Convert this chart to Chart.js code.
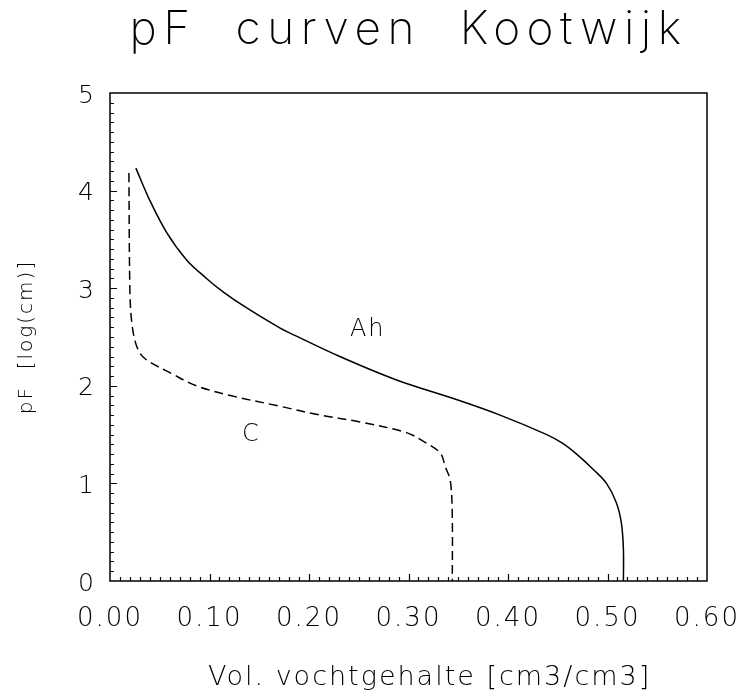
<!DOCTYPE html>
<html>
<head>
<meta charset="utf-8">
<title>pF curven Kootwijk</title>
<script src="https://cdn.jsdelivr.net/npm/chart.js@4.4.1/dist/chart.umd.min.js"></script>
<style>
  html, body { margin: 0; padding: 0; background: #fff; }
  canvas { display: block; }
</style>
</head>
<body>
<canvas id="pfChart" width="738" height="697"></canvas>
<script>
// pF curves (water retention) for the Ah and C horizon
var ahTheta = [0.026, 0.040, 0.057, 0.077, 0.097, 0.114, 0.137, 0.171, 0.181, 0.231, 0.288, 0.345, 0.392, 0.439, 0.455, 0.469, 0.486, 0.499, 0.509, 0.514, 0.516, 0.516];
var ahPf    = [4.23, 3.90, 3.57, 3.29, 3.10, 2.96, 2.80, 2.59, 2.54, 2.30, 2.06, 1.87, 1.70, 1.50, 1.41, 1.30, 1.14, 1.00, 0.80, 0.59, 0.32, 0.00];
var cTheta  = [0.019, 0.020, 0.022, 0.027, 0.035, 0.063, 0.087, 0.121, 0.171, 0.211, 0.251, 0.298, 0.315, 0.332, 0.337, 0.342, 0.344, 0.344];
var cPf     = [4.18, 2.98, 2.64, 2.40, 2.28, 2.12, 2.00, 1.90, 1.79, 1.70, 1.63, 1.52, 1.43, 1.31, 1.17, 1.03, 0.66, 0.00];

var xTickLabels = ['0.00', '0.10', '0.20', '0.30', '0.40', '0.50', '0.60'];
var yTickLabels = ['0', '1', '2', '3', '4', '5'];

var curveNames  = ['Ah', 'C'];
var curveLabelX = [0.259, 0.142];
var curveLabelY = [2.57, 1.50];

var fontFamily = '"DejaVu Sans", sans-serif';
var titleFamily = 'Inter, "DejaVu Sans", sans-serif';

function toPoints(xs, ys) {
  return xs.map(function (x, i) { return { x: x, y: ys[i] }; });
}

// wide plotter-like lettering; the title (z 0) is drawn before the datasets,
// axis labels (z 1) after them, so the spacing is switched in between
var plotterStyle = {
  id: 'plotterStyle',
  beforeUpdate: function (chart) { chart.ctx.letterSpacing = '2px'; },
  beforeDraw: function (chart) { chart.ctx.letterSpacing = '6.5px'; },
  beforeDatasetsDraw: function (chart) { chart.ctx.letterSpacing = '2px'; },
  afterDatasetsDraw: function (chart) {
    var ctx = chart.ctx, a = chart.chartArea;
    var xs = chart.scales.x, ys = chart.scales.y;
    ctx.save();
    ctx.strokeStyle = '#000';
    ctx.lineWidth = 1.2;
    ctx.beginPath();
    // inward minor ticks every 0.01 / 0.1, longer on the labelled values
    for (var i = 1; i < 60; i++) {
      var px = Math.round(xs.getPixelForValue(i / 100)) + 0.5;
      var len = i % 10 === 0 ? 7 : 4;
      ctx.moveTo(px, a.bottom);
      ctx.lineTo(px, a.bottom - len);
    }
    for (var j = 1; j < 50; j++) {
      var py = Math.round(ys.getPixelForValue(j / 10)) + 0.5;
      var l = j % 10 === 0 ? 7 : 4;
      ctx.moveTo(a.left, py);
      ctx.lineTo(a.left + l, py);
    }
    ctx.stroke();
    ctx.lineWidth = 1.5;
    ctx.strokeRect(a.left, a.top, a.right - a.left, a.bottom - a.top);

    ctx.fillStyle = '#000';
    ctx.font = '200 24px ' + fontFamily;
    ctx.textAlign = 'center';
    ctx.textBaseline = 'middle';
    curveNames.forEach(function (name, k) {
      ctx.fillText(name, xs.getPixelForValue(curveLabelX[k]), ys.getPixelForValue(curveLabelY[k]));
    });
    ctx.restore();
  }
};

new Chart(document.getElementById('pfChart'), {
  type: 'scatter',
  data: {
    datasets: [{
      label: 'Ah',
      data: toPoints(ahTheta, ahPf),
      showLine: true,
      borderColor: '#000',
      borderWidth: 1.5,
      pointRadius: 0,
      tension: 0.35
    }, {
      label: 'C',
      data: toPoints(cTheta, cPf),
      showLine: true,
      borderColor: '#000',
      borderWidth: 1.5,
      borderDash: [9, 5],
      pointRadius: 0,
      tension: 0.35
    }]
  },
  options: {
    responsive: false,
    animation: false,
    layout: { padding: { left: 0, right: 31, top: 0, bottom: 0 } },
    plugins: {
      legend: { display: false },
      tooltip: { enabled: false },
      title: {
        display: true,
        fullSize: false,
        text: 'pF  curven  Kootwijk',
        color: '#000',
        font: { family: titleFamily, size: 46, weight: 200 },
        padding: { top: 3, bottom: 34.8 }
      }
    },
    scales: {
      x: {
        type: 'linear',
        min: 0,
        max: 0.6,
        grid: { display: false, drawTicks: false, z: 1 },
        border: { display: false },
        ticks: {
          z: 1,
          stepSize: 0.1,
          color: '#000',
          padding: 23,
          font: { family: fontFamily, size: 26, weight: 200 },
          callback: function (v, i) { return xTickLabels[i]; }
        },
        title: {
          display: true,
          text: '    Vol. vochtgehalte [cm3/cm3]',
          color: '#000',
          font: { family: fontFamily, size: 27, weight: 200 },
          padding: { top: 0, bottom: 3 }
        },
        afterFit: function (scale) {
          scale.height = 116;
          scale.paddingLeft = 0;
          scale.paddingRight = 0;
        }
      },
      y: {
        type: 'linear',
        min: 0,
        max: 5,
        grid: { display: false, drawTicks: false, z: 1 },
        border: { display: false },
        ticks: {
          z: 1,
          stepSize: 1,
          color: '#000',
          padding: 14,
          labelOffset: 3,
          font: { family: fontFamily, size: 25, weight: 200 },
          callback: function (v, i) { return yTickLabels[i]; }
        },
        title: {
          display: true,
          text: 'pF  [log(cm)]',
          color: '#000',
          font: { family: fontFamily, size: 20, weight: 200 },
          padding: { top: 15, bottom: 0 }
        },
        afterFit: function (scale) { scale.width = 110; }
      }
    }
  },
  plugins: [plotterStyle]
});
</script>
</body>
</html>
